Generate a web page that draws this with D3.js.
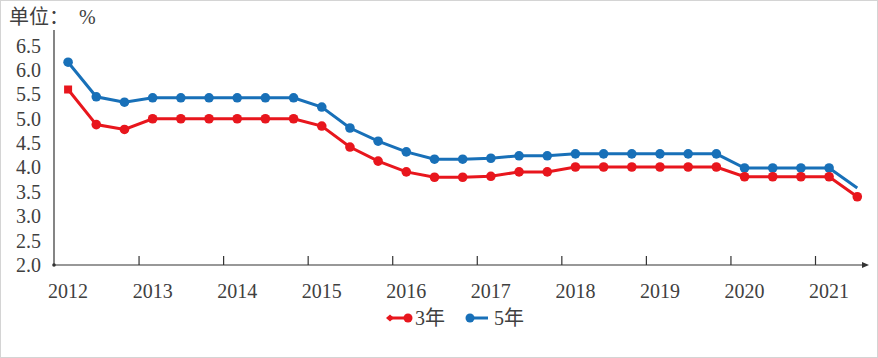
<!DOCTYPE html>
<html>
<head>
<meta charset="utf-8">
<script src="https://cdn.jsdelivr.net/npm/d3@7"></script>
<style>
  body { margin: 0; background: #fff; }
  svg text { font-family: "Liberation Serif", "Times New Roman", "DejaVu Serif", serif; fill: #404040; }
  svg text.cn { font-family: "Liberation Serif", "Noto Sans CJK SC", serif; }
</style>
</head>
<body>
<svg id="chart" width="878" height="358"></svg>
<script>
// dates of each observation (every 4 months)
var dates = ["2012-03","2012-07","2012-11","2013-03","2013-07","2013-11","2014-03","2014-07","2014-11",
             "2015-03","2015-07","2015-11","2016-03","2016-07","2016-11","2017-03","2017-07","2017-11",
             "2018-03","2018-07","2018-11","2019-03","2019-07","2019-11","2020-03","2020-07","2020-11",
             "2021-03","2021-07"];

var rate3 = [5.60,4.88,4.78,5.00,5.00,5.00,5.00,5.00,5.00,4.85,4.42,4.13,3.91,3.80,3.80,3.82,3.91,3.91,
             4.01,4.01,4.01,4.01,4.01,4.01,3.81,3.81,3.81,3.81,3.40];
var rate5 = [6.16,5.45,5.34,5.43,5.43,5.43,5.43,5.43,5.43,5.24,4.81,4.54,4.32,4.17,4.17,4.19,4.24,4.24,
             4.28,4.28,4.28,4.28,4.28,4.28,3.99,3.99,3.99,3.99,3.58];

var yearTicks = [2012,2013,2014,2015,2016,2017,2018,2019,2020,2021];
var yTicks = [2.0,2.5,3.0,3.5,4.0,4.5,5.0,5.5,6.0,6.5];

var RED = "#e8161d", BLUE = "#1870b8";

function toYear(s){
  var p = s.split("-");
  return +p[0] + (+p[1] - 1) / 12;
}

var svg = d3.select("#chart");

// light frame round the picture
svg.append("rect").attr("x",0.5).attr("y",0.5).attr("width",877).attr("height",357)
  .attr("fill","none").attr("stroke","#d4d4d4");

var x = d3.scaleLinear().domain([2012, 2021]).range([54, 815]);
var y = d3.scaleLinear().domain([2, 7]).range([265, 21.25]);

// unit label
svg.append("text").attr("class","cn").attr("x",9).attr("y",24).style("font-size","20px")
  .attr("xml:space","preserve").text("单位：  %");

// y axis
var yAxis = d3.axisLeft(y).tickValues(yTicks).tickFormat(d3.format(".1f")).tickSize(0).tickPadding(13);
var gy = svg.append("g").attr("transform","translate(54,0)").call(yAxis);
gy.select(".domain").remove();
gy.attr("font-family", null).attr("font-size", null);
gy.selectAll("text").style("font-size","20px").attr("fill","#404040");
svg.append("line").attr("x1",54).attr("x2",54).attr("y1",30).attr("y2",y(2))
  .attr("stroke","#333").attr("stroke-width",1.2);

// x axis
var gx = svg.append("g").attr("transform","translate(0," + y(2) + ")")
  .call(d3.axisTop(x).tickValues(yearTicks.slice(1)).tickSize(9).tickFormat(""));
gx.select(".domain").remove();
gx.selectAll("line").attr("stroke","#333").attr("stroke-width",1.2);
svg.append("line").attr("x1",54).attr("x2",864).attr("y1",y(2)).attr("y2",y(2))
  .attr("stroke","#333").attr("stroke-width",1.2);
svg.append("path").attr("d","M862," + (y(2)-3) + "L869," + y(2) + "L862," + (y(2)+3) + "Z").attr("fill","#333");
svg.append("circle").attr("cx",54).attr("cy",y(2)).attr("r",1.8).attr("fill","#333");

svg.append("g").selectAll("text").data(yearTicks).enter().append("text")
  .attr("x", function(d){ return x(d + 2/12); })
  .attr("y", 298)
  .attr("text-anchor","middle")
  .style("font-size","20px")
  .text(function(d){ return d; });

var line = d3.line()
  .x(function(d){ return x(toYear(d.date)); })
  .y(function(d){ return y(d.v); });

var s3 = dates.map(function(d,i){ return {date:d, v:rate3[i]}; });
var s5 = dates.map(function(d,i){ return {date:d, v:rate5[i]}; });

svg.append("path").datum(s5).attr("d",line).attr("fill","none")
  .attr("stroke",BLUE).attr("stroke-width",3);
svg.append("g").selectAll("circle").data(s5.slice(0, s5.length-1)).enter().append("circle")
  .attr("cx",function(d){ return x(toYear(d.date)); })
  .attr("cy",function(d){ return y(d.v); })
  .attr("r",4.8).attr("fill",BLUE);

svg.append("path").datum(s3).attr("d",line).attr("fill","none")
  .attr("stroke",RED).attr("stroke-width",3);
svg.append("g").selectAll("circle").data(s3.slice(1)).enter().append("circle")
  .attr("cx",function(d){ return x(toYear(d.date)); })
  .attr("cy",function(d){ return y(d.v); })
  .attr("r",4.8).attr("fill",RED);
// first red point is drawn as a small square
svg.append("rect").attr("x",x(toYear(s3[0].date))-4).attr("y",y(s3[0].v)-4)
  .attr("width",8).attr("height",8).attr("fill",RED);

// legend
var lg = svg.append("g").attr("transform","translate(0,318)");
lg.append("line").attr("x1",390).attr("x2",408).attr("y1",0).attr("y2",0).attr("stroke",RED).attr("stroke-width",3);
lg.append("path").attr("d","M386,0L390,-3.5L394,0L390,3.5Z").attr("fill",RED);
lg.append("circle").attr("cx",408).attr("cy",0).attr("r",4.5).attr("fill",RED);
lg.append("text").attr("class","cn").attr("x",415).attr("y",7).style("font-size","20px").text("3年");
lg.append("line").attr("x1",470).attr("x2",488).attr("y1",0).attr("y2",0).attr("stroke",BLUE).attr("stroke-width",3);
lg.append("circle").attr("cx",470).attr("cy",0).attr("r",4.5).attr("fill",BLUE);
lg.append("text").attr("class","cn").attr("x",494).attr("y",7).style("font-size","20px").text("5年");
</script>
</body>
</html>
